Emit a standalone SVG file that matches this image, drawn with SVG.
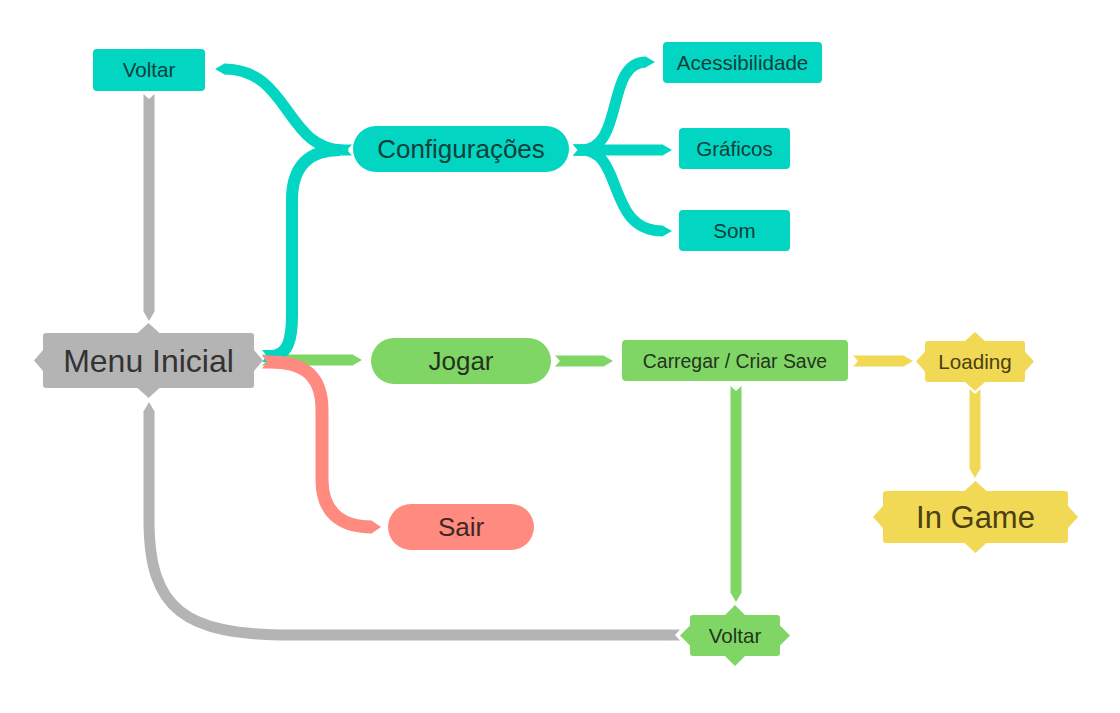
<svg xmlns="http://www.w3.org/2000/svg" width="1120" height="713" viewBox="0 0 1120 713">
<style>
.t{font-family:"Liberation Sans",Arial,sans-serif;text-anchor:middle}
.cT{fill:#02d6c2}.cG{fill:#80d665}.cY{fill:#f2d955}.cR{fill:#ff8a80}.cS{fill:#b4b4b4}
.lT{stroke:#02d6c2}.lG{stroke:#80d665}.lY{stroke:#f2d955}.lR{stroke:#ff8a80}.lS{stroke:#b4b4b4}
.ln{fill:none;stroke-width:11;stroke-linecap:butt;stroke-linejoin:round}
</style>
<defs>
<marker id="tT" markerUnits="userSpaceOnUse" orient="auto" markerWidth="1" markerHeight="1" refX="0" refY="0" overflow="visible"><path d="M-0.5,-5.5 L9,0 L-0.5,5.5 Z" fill="#02d6c2"/></marker>
<marker id="nT" markerUnits="userSpaceOnUse" orient="auto" markerWidth="1" markerHeight="1" refX="0" refY="0" overflow="visible"><path d="M-8,-5.5 L0.5,-5.5 L0.5,5.5 L-8,5.5 L-3,0 Z" fill="#02d6c2"/></marker>
<marker id="tT2" markerUnits="userSpaceOnUse" orient="auto" markerWidth="1" markerHeight="1" refX="0" refY="0" overflow="visible"><path d="M-0.5,-6 L9,0 L-0.5,6 Z" fill="#02d6c2"/></marker>
<marker id="nT2" markerUnits="userSpaceOnUse" orient="auto" markerWidth="1" markerHeight="1" refX="0" refY="0" overflow="visible"><path d="M-8,-6 L0.5,-6 L0.5,6 L-8,6 L-3,0 Z" fill="#02d6c2"/></marker>
<marker id="tG" markerUnits="userSpaceOnUse" orient="auto" markerWidth="1" markerHeight="1" refX="0" refY="0" overflow="visible"><path d="M-0.5,-5.5 L9,0 L-0.5,5.5 Z" fill="#80d665"/></marker>
<marker id="nG" markerUnits="userSpaceOnUse" orient="auto" markerWidth="1" markerHeight="1" refX="0" refY="0" overflow="visible"><path d="M-8,-5.5 L0.5,-5.5 L0.5,5.5 L-8,5.5 L-3,0 Z" fill="#80d665"/></marker>
<marker id="tY" markerUnits="userSpaceOnUse" orient="auto" markerWidth="1" markerHeight="1" refX="0" refY="0" overflow="visible"><path d="M-0.5,-5.5 L9,0 L-0.5,5.5 Z" fill="#f2d955"/></marker>
<marker id="nY" markerUnits="userSpaceOnUse" orient="auto" markerWidth="1" markerHeight="1" refX="0" refY="0" overflow="visible"><path d="M-8,-5.5 L0.5,-5.5 L0.5,5.5 L-8,5.5 L-3,0 Z" fill="#f2d955"/></marker>
<marker id="tR" markerUnits="userSpaceOnUse" orient="auto" markerWidth="1" markerHeight="1" refX="0" refY="0" overflow="visible"><path d="M-0.5,-6.5 L9,0 L-0.5,6.5 Z" fill="#ff8a80"/></marker>
<marker id="nR" markerUnits="userSpaceOnUse" orient="auto" markerWidth="1" markerHeight="1" refX="0" refY="0" overflow="visible"><path d="M-8,-6.5 L0.5,-6.5 L0.5,6.5 L-8,6.5 L-3,0 Z" fill="#ff8a80"/></marker>
<marker id="tS" markerUnits="userSpaceOnUse" orient="auto" markerWidth="1" markerHeight="1" refX="0" refY="0" overflow="visible"><path d="M-0.5,-5.5 L9,0 L-0.5,5.5 Z" fill="#b4b4b4"/></marker>
<marker id="nS" markerUnits="userSpaceOnUse" orient="auto" markerWidth="1" markerHeight="1" refX="0" refY="0" overflow="visible"><path d="M-8,-5.5 L0.5,-5.5 L0.5,5.5 L-8,5.5 L-3,0 Z" fill="#b4b4b4"/></marker>
</defs>
<rect width="1120" height="713" fill="#ffffff"/>
<g id="connectors">
<path class="ln lS" d="M149,102 L149,312" marker-start="url(#nS)" marker-end="url(#tS)"/>
<path class="ln lS" d="M672,635 L290,635 C185,635 149,610 149,520 L149,411" marker-start="url(#nS)" marker-end="url(#tS)"/>
<path class="ln lG" d="M270,360 L353,360" marker-start="url(#nG)" marker-end="url(#tG)"/>
<path class="ln lT" style="stroke-width:12" d="M270,356 C288,356 292,340 292,315 L292,200 C292,165 310,150 340,150" marker-start="url(#nT2)" marker-end="url(#tT2)"/>
<path class="ln lT" d="M344,150 C285,150 290,69 224,69" marker-start="url(#nT)" marker-end="url(#tT)"/>
<path class="ln lR" style="stroke-width:13" d="M270,362 C300,362 322,372 322,410 L322,480 C322,512 340,527 372,527" marker-start="url(#nR)" marker-end="url(#tR)"/>
<path class="ln lT" d="M581,150 C625,150 605,62 646,62" marker-start="url(#nT)" marker-end="url(#tT)"/>
<path class="ln lT" d="M581,150 L663,150" marker-start="url(#nT)" marker-end="url(#tT)"/>
<path class="ln lT" d="M581,150 C625,150 605,231 663,231" marker-start="url(#nT)" marker-end="url(#tT)"/>
<path class="ln lG" d="M563,361 L604,361" marker-start="url(#nG)" marker-end="url(#tG)"/>
<path class="ln lY" d="M861,361 L904,361" marker-start="url(#nY)" marker-end="url(#tY)"/>
<path class="ln lG" d="M736,394 L736,593" marker-start="url(#nG)" marker-end="url(#tG)"/>
<path class="ln lY" d="M975,397 L975,469" marker-start="url(#nY)" marker-end="url(#tY)"/>
</g>
<g id="node-voltar-top">
<rect class="cT" x="93" y="49" width="112" height="42" rx="4"/>
<text class="t" x="149" y="77" font-size="20.6" fill="#103f3b">Voltar</text>
</g>
<g id="node-configuracoes">
<rect class="cT" x="353" y="126" width="216" height="46" rx="23"/>
<text class="t" x="461" y="158" font-size="26" fill="#103f3b">Configurações</text>
</g>
<g id="node-acessibilidade">
<rect class="cT" x="663" y="42" width="159" height="41" rx="4"/>
<text class="t" x="742.5" y="70" font-size="20.6" fill="#103f3b">Acessibilidade</text>
</g>
<g id="node-graficos">
<rect class="cT" x="679" y="128" width="111" height="41" rx="4"/>
<text class="t" x="734.5" y="156" font-size="20.6" fill="#103f3b">Gráficos</text>
</g>
<g id="node-som">
<rect class="cT" x="679" y="210" width="111" height="41" rx="4"/>
<text class="t" x="734.5" y="238" font-size="20.6" fill="#103f3b">Som</text>
</g>
<g id="node-menu-inicial">
<path class="cS" d="M46,333 L137.5,333 L148.5,323 L159.5,333 L251,333 Q254,333 254,336 L254,350 L263,360.5 L254,371 L254,385 Q254,388 251,388 L159.5,388 L148.5,398 L137.5,388 L46,388 Q43,388 43,385 L43,371 L34,360.5 L43,350 L43,336 Q43,333 46,333 Z"/>
<text class="t" x="148.5" y="372" font-size="32" fill="#333333">Menu Inicial</text>
</g>
<g id="node-jogar">
<rect class="cG" x="371" y="338" width="180" height="46" rx="23"/>
<text class="t" x="461" y="370" font-size="26" fill="#24331e">Jogar</text>
</g>
<g id="node-carregar">
<rect class="cG" x="622" y="340" width="226" height="41" rx="4"/>
<text class="t" x="735" y="367.5" font-size="19.4" fill="#24331e">Carregar / Criar Save</text>
</g>
<g id="node-loading">
<path class="cY" d="M928,341 L965,341 L975,332 L985,341 L1022,341 Q1025,341 1025,344 L1025,351.5 L1034,361.5 L1025,371.5 L1025,379 Q1025,382 1022,382 L985,382 L975,391 L965,382 L928,382 Q925,382 925,379 L925,371.5 L916,361.5 L925,351.5 L925,344 Q925,341 928,341 Z"/>
<text class="t" x="975" y="368.5" font-size="20.6" fill="#4a4010">Loading</text>
</g>
<g id="node-in-game">
<path class="cY" d="M886,491 L964.5,491 L975.5,481 L986.5,491 L1065,491 Q1068,491 1068,494 L1068,506 L1078,517 L1068,528 L1068,540 Q1068,543 1065,543 L986.5,543 L975.5,553 L964.5,543 L886,543 Q883,543 883,540 L883,528 L873,517 L883,506 L883,494 Q883,491 886,491 Z"/>
<text class="t" x="975.5" y="528" font-size="31" fill="#4a4010">In Game</text>
</g>
<g id="node-sair">
<rect class="cR" x="388" y="504" width="146" height="46" rx="23"/>
<text class="t" x="461" y="536" font-size="26" fill="#3d2826">Sair</text>
</g>
<g id="node-voltar-bottom">
<path class="cG" d="M693,615 L725,615 L735,605 L745,615 L777,615 Q780,615 780,618 L780,625.5 L790,635.5 L780,645.5 L780,653 Q780,656 777,656 L745,656 L735,666 L725,656 L693,656 Q690,656 690,653 L690,645.5 L680,635.5 L690,625.5 L690,618 Q690,615 693,615 Z"/>
<text class="t" x="735" y="643" font-size="20.6" fill="#24331e">Voltar</text>
</g>
</svg>
